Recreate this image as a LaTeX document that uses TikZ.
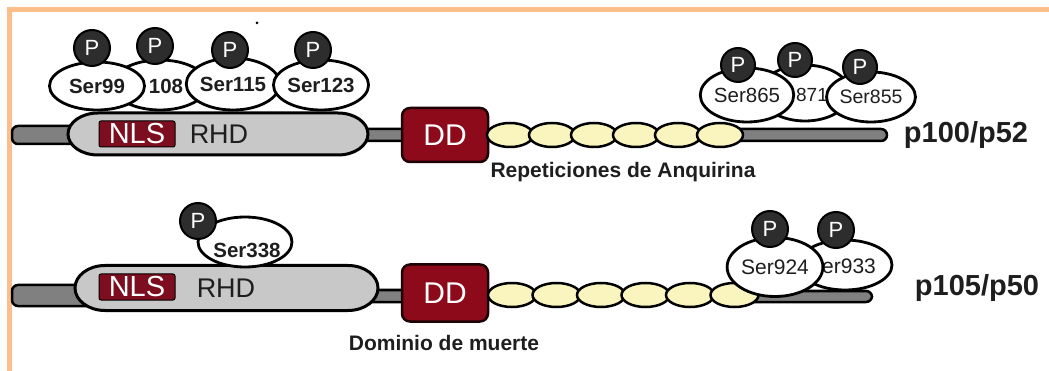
\documentclass[tikz,border=0pt]{standalone}
\usepackage{fontspec}
\setmainfont{Liberation Sans}
\usetikzlibrary{shapes.geometric}
\definecolor{framec}{RGB}{252,191,140}
\definecolor{rodgray}{RGB}{128,128,128}
\definecolor{rhdgray}{RGB}{200,200,200}
\definecolor{maroon}{RGB}{125,14,32}
\definecolor{ddred}{RGB}{140,10,26}
\definecolor{ankfill}{RGB}{250,245,190}
\definecolor{pfill}{RGB}{45,45,45}
\definecolor{txt}{RGB}{30,30,30}
\newcommand{\fs}[1]{\fontsize{#1}{#1}\selectfont}
\tikzset{
  rod/.style={fill=rodgray, draw=black, line width=2.5pt, rounded corners=6pt},
  rhdshape/.style={fill=rhdgray, draw=black, line width=3pt},
  nlsbox/.style={fill=maroon, draw=black, line width=1pt, rounded corners=2pt, minimum width=76pt, minimum height=26pt, inner sep=0pt, text=white, font=\fs{29}},
  ddbox/.style={fill=ddred, draw=black!80!ddred, line width=2.5pt, rounded corners=8pt, minimum width=86pt, inner sep=0pt, text=white, font=\fs{30}},
  ank/.style={ellipse, fill=ankfill, draw=black, line width=2.5pt, inner sep=0pt},
  site/.style={ellipse, fill=white, draw=black, line width=2.8pt, inner sep=0pt, text=txt},
  boldsite/.style={site, font=\bfseries\fs{20.5}},
  regsite/.style={site, font=\fs{20.5}},
  pcirc/.style={circle, fill=pfill, draw=black, line width=2pt, inner sep=0pt, minimum size=#1, text=white, font=\fs{22}},
  pcirc/.default=36pt,
  txtlabel/.style={inner sep=0pt, text=txt},
}
\begin{document}
\begin{tikzpicture}[x=1pt,y=-1pt]
\useasboundingbox (0,0) rectangle (1049,371);
% frame
\draw[framec, line width=5pt] (9,371) -- (9,10) -- (1049,10);
\fill[black] (257,23) circle (1.5);

%%%%%%%% ROW 1 : p100/p52
\draw[rod] (12,126) rectangle (100,144);
\draw[rod] (350,129) rectangle (410,141);
\draw[rod] (730,129) rectangle (887,141);
\path[rhdshape] (68,134) .. controls (68,122.4) and (81.4,113) .. (98,113) -- (338,113)
  .. controls (354.6,113) and (368,122.4) .. (368,134)
  .. controls (368,145.6) and (354.6,155) .. (338,155) -- (98,155)
  .. controls (81.4,155) and (68,145.6) .. (68,134) -- cycle;
\node[nlsbox] (nls1) at (137,134) {NLS};
\node[txtlabel, font=\fs{27}] (rhd1) at (219,134) {RHD};
\node[ddbox, minimum height=54pt] (dd1) at (445,135) {DD};
\foreach \i/\x in {1/510,2/552,3/594,4/636,5/678,6/720}
  \node[ank, minimum width=46pt, minimum height=24pt] (ankA\i) at (\x,135) {};
\node[txtlabel, font=\bfseries\fs{21}, anchor=base] (rep) at (623,178) {Repeticiones de Anquirina};
\node[txtlabel, font=\bfseries\fs{29}, anchor=base] (p100) at (966,143) {p100/p52};

% left phospho sites row 1
\node[boldsite, minimum width=95pt, minimum height=50pt] (s108) at (160,85) {};
\node[txtlabel, font=\bfseries\fs{20.5}] (t108) at (166,86) {108};
\node[boldsite, minimum width=95pt, minimum height=48pt] (s99) at (97,86) {Ser99};
\node[boldsite, minimum width=88pt, minimum height=52pt] (s115) at (233,84) {Ser115};
\node[boldsite, minimum width=92pt, minimum height=50pt] (s123) at (321,85) {Ser123};
\node[pcirc] (p99) at (92,48) {P};
\node[pcirc] (p108) at (155,46) {P};
\node[pcirc] (p115) at (230,50) {P};
\node[pcirc] (p123) at (313,50) {P};

% right phospho sites row 1
\node[regsite, minimum width=90pt, minimum height=56pt] (s871) at (805,93) {};
\node[txtlabel, font=\fs{19}] (t871) at (812,95) {871};
\node[regsite, minimum width=91pt, minimum height=54pt] (s865) at (747,95) {Ser865};
\node[regsite, minimum width=72pt, minimum height=50pt, font=\fs{19.5}] (s855) at (871,97) {Ser855};
\node[pcirc=34pt] (p865) at (738,65) {P};
\node[pcirc=34pt] (p871) at (795,60) {P};
\node[pcirc=34pt] (p855) at (860,67) {P};

%%%%%%%% ROW 2 : p105/p50
\draw[rod] (12,285) rectangle (100,306);
\draw[rod] (360,290) rectangle (410,302);
\draw[rod] (740,291) rectangle (872,302);
\path[rhdshape] (75,288) .. controls (75,275.6) and (88.4,265.5) .. (105,265.5) -- (348,265.5)
  .. controls (364.6,265.5) and (378,275.6) .. (378,288)
  .. controls (378,300.4) and (364.6,310.5) .. (348,310.5) -- (105,310.5)
  .. controls (88.4,310.5) and (75,300.4) .. (75,288) -- cycle;
\node[nlsbox] (nls2) at (137,287) {NLS};
\node[txtlabel, font=\fs{27}] (rhd2) at (226,288) {RHD};
\node[ddbox, minimum height=57pt] (dd2) at (445,293) {DD};
\foreach \i/\x in {1/512,2/556.5,3/601,4/645.5,5/690,6/734.5}
  \node[ank, minimum width=48pt, minimum height=24pt] (ankB\i) at (\x,295) {};
\node[txtlabel, font=\bfseries\fs{21}, anchor=base] (dom) at (444,350) {Dominio de muerte};
\node[txtlabel, font=\bfseries\fs{29}, anchor=base] (p105) at (977,295) {p105/p50};

% phospho site row 2 left
\node[boldsite, minimum width=94pt, minimum height=50pt] (s338) at (245,242) {};
\node[txtlabel, font=\bfseries\fs{20.5}] (t338) at (247,250) {Ser338};
\node[pcirc] (p338) at (198,221) {P};

% phospho sites row 2 right
\node[regsite, minimum width=94pt, minimum height=50pt] (s933) at (845,265) {};
\node[txtlabel, font=\fs{21}] (t933) at (849,266) {er933};
\node[regsite, minimum width=94pt, minimum height=59pt, font=\fs{21}] (s924) at (775,267) {Ser924};
\node[pcirc] (p924) at (770,229) {P};
\node[pcirc] (p933) at (836,230) {P};
\end{tikzpicture}
\end{document}
